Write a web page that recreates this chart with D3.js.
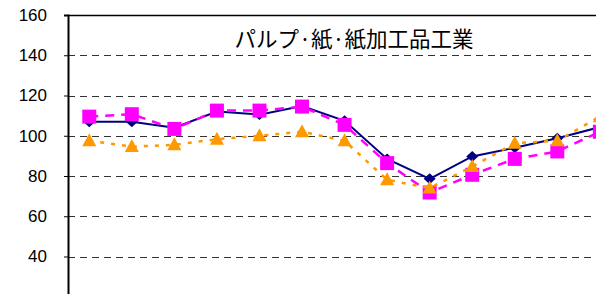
<!DOCTYPE html>
<html>
<head>
<meta charset="utf-8">
<script src="https://cdnjs.cloudflare.com/ajax/libs/d3/7.8.5/d3.min.js"></script>
<style>
    body { margin: 0; background: #fff; }
    .tick text { font-family: "Liberation Sans", Arial, sans-serif; font-size: 17px; fill: #000; }
</style>
</head>
<body>
<div class="chart"></div>
<script>
// chart data
var title = "パルプ·紙·紙加工品工業";
var categories = d3.range(13);
var yTicks = [40, 60, 80, 100, 120, 140, 160];
var navyValues = [107, 107, 104, 112, 110.5, 114.8, 107.4, 88.5, 78.6, 89.7, 94, 98.8, 104.3];
var magentaValues = [109.5, 110.7, 103.4, 112.5, 112.5, 114.5, 105.4, 86.4, 71.8, 80.6, 88.5, 92.2, 102];
var orangeValues = [97.5, 94.6, 95.5, 98.3, 100, 102, 97.5, 78.1, 74, 84.7, 96.3, 97.5, 109.5];

function chart() {

    var width = 596,
        height = 294;

    var left = 68,
        top = 15,
        step = 42.55;

    var svg = d3.select(".chart").append("svg")
        .attr("width", width)
        .attr("height", height)
        .style("display", "block");

    // setup x
    var xScale = d3.scaleBand()
        .domain(categories)
        .range([left, left + categories.length * step]);
    var xMap = function (d, i) {
        return xScale(i) + xScale.bandwidth() / 2;
    };

    // setup y, the plot runs below the bottom of the picture
    var yScale = d3.scaleLinear().domain([0, 160]).range([337, top]);

    // dashed grid lines
    svg.append("g")
        .selectAll("line")
        .data(yTicks.filter(function (t) { return t < 160; }))
        .enter().append("line")
        .attr("x1", left)
        .attr("x2", width)
        .attr("y1", function (d) { return Math.round(yScale(d)) + 0.5; })
        .attr("y2", function (d) { return Math.round(yScale(d)) + 0.5; })
        .style("stroke", "#333")
        .style("stroke-width", 1)
        .style("stroke-dasharray", "7,5");

    // top border
    svg.append("line")
        .attr("x1", left)
        .attr("x2", width)
        .attr("y1", top + 0.5)
        .attr("y2", top + 0.5)
        .style("stroke", "#000")
        .style("stroke-width", 1.5);

    // y-axis
    var yAxis = d3.axisLeft(yScale)
        .tickValues(yTicks)
        .tickSize(4)
        .tickPadding(17)
        .tickFormat(d3.format("d"));
    var gy = svg.append("g")
        .attr("transform", "translate(" + left + ",0)")
        .call(yAxis);
    gy.select(".domain").style("stroke", "#000").style("stroke-width", 2);
    gy.selectAll(".tick line").style("stroke", "#000");

    // marker shapes
    var shapes = {
        triangle: "M0,-7.5L7,5.5L-7,5.5Z",
        square: "M-7,-7H7V7H-7Z",
        diamond: "M0,-5.5L6,0L0,5.5L-6,0Z"
    };

    // series, navy drawn first so the others sit on top
    var series = [
        { values: navyValues, color: "#000080", dash: null, width: 2, shape: "diamond" },
        { values: magentaValues, color: "#ff00ff", dash: "9,7", width: 2.5, shape: "square" },
        { values: orangeValues, color: "#ff9900", dash: "4,7", width: 2.5, shape: "triangle" }
    ];

    var line = d3.line()
        .x(xMap)
        .y(function (d) { return yScale(d); });

    series.forEach(function (s) {
        svg.append("path")
            .datum(s.values)
            .attr("d", line)
            .style("fill", "none")
            .style("stroke", s.color)
            .style("stroke-width", s.width)
            .style("stroke-dasharray", s.dash);

        svg.append("g")
            .selectAll("path")
            .data(s.values)
            .enter().append("path")
            .attr("d", shapes[s.shape])
            .attr("transform", function (d, i) {
                return "translate(" + xMap(d, i) + "," + yScale(d) + ")";
            })
            .style("fill", s.color);
    });

    // title
    svg.append("text")
        .attr("x", 354)
        .attr("y", 47)
        .style("text-anchor", "middle")
        .style("font-family", "'Noto Sans CJK JP', sans-serif")
        .style("font-size", "21.5px")
        .style("fill", "#000")
        .text(title);
}

chart();
</script>
</body>
</html>
